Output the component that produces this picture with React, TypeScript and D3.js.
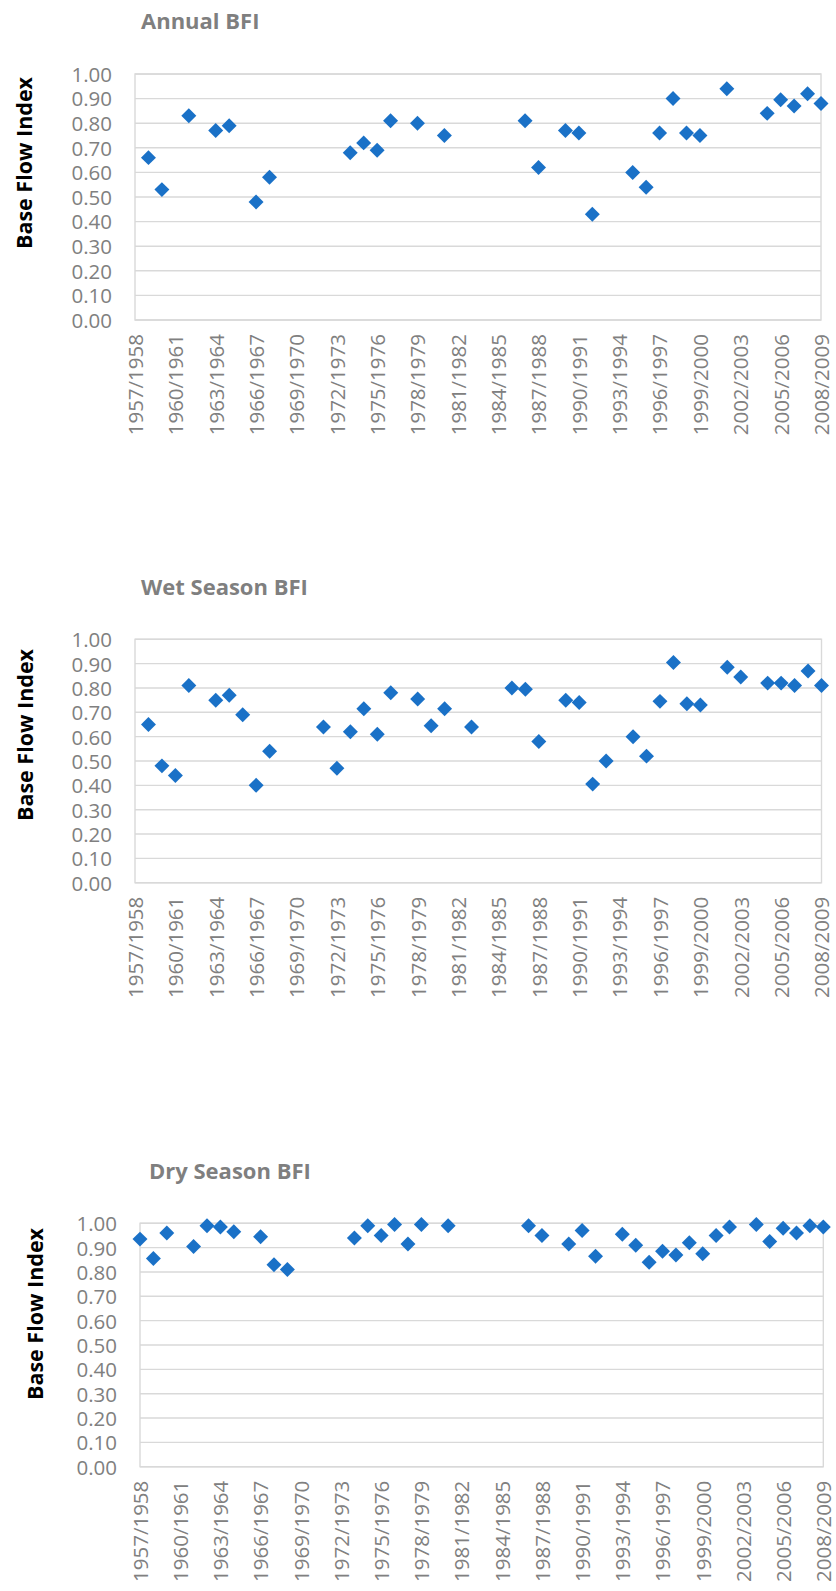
import React, { useEffect, useRef } from 'react';
import * as d3 from 'd3';

// hydrological years shown on the x axis
const seasons = d3.range(1957, 2009).map(y => `${y}/${y + 1}`);
const tickSeasons = seasons.filter((_, i) => i % 3 === 0);
const yTicks = [0, 0.1, 0.2, 0.3, 0.4, 0.5, 0.6, 0.7, 0.8, 0.9, 1.0];

const annualBFI: [string, number][] = [
  ['1958/1959', 0.66], ['1959/1960', 0.53], ['1961/1962', 0.83], ['1963/1964', 0.77],
  ['1964/1965', 0.79], ['1966/1967', 0.48], ['1967/1968', 0.58], ['1973/1974', 0.68],
  ['1974/1975', 0.72], ['1975/1976', 0.69], ['1976/1977', 0.81], ['1978/1979', 0.80],
  ['1980/1981', 0.75], ['1986/1987', 0.81], ['1987/1988', 0.62], ['1989/1990', 0.77],
  ['1990/1991', 0.76], ['1991/1992', 0.43], ['1994/1995', 0.60], ['1995/1996', 0.54],
  ['1996/1997', 0.76], ['1997/1998', 0.90], ['1998/1999', 0.76], ['1999/2000', 0.75],
  ['2001/2002', 0.94], ['2004/2005', 0.84], ['2005/2006', 0.895], ['2006/2007', 0.87],
  ['2007/2008', 0.92], ['2008/2009', 0.88],
];

const wetBFI: [string, number][] = [
  ['1958/1959', 0.65], ['1959/1960', 0.48], ['1960/1961', 0.44], ['1961/1962', 0.81],
  ['1963/1964', 0.75], ['1964/1965', 0.77], ['1965/1966', 0.69], ['1966/1967', 0.40],
  ['1967/1968', 0.54], ['1971/1972', 0.64], ['1972/1973', 0.47], ['1973/1974', 0.62],
  ['1974/1975', 0.715], ['1975/1976', 0.61], ['1976/1977', 0.78], ['1978/1979', 0.755],
  ['1979/1980', 0.645], ['1980/1981', 0.715], ['1982/1983', 0.64], ['1985/1986', 0.80],
  ['1986/1987', 0.795], ['1987/1988', 0.58], ['1989/1990', 0.75], ['1990/1991', 0.74],
  ['1991/1992', 0.405], ['1992/1993', 0.50], ['1994/1995', 0.60], ['1995/1996', 0.52],
  ['1996/1997', 0.745], ['1997/1998', 0.905], ['1998/1999', 0.735], ['1999/2000', 0.73],
  ['2001/2002', 0.885], ['2002/2003', 0.845], ['2004/2005', 0.82], ['2005/2006', 0.82],
  ['2006/2007', 0.81], ['2007/2008', 0.87], ['2008/2009', 0.81],
];

const dryBFI: [string, number][] = [
  ['1957/1958', 0.935], ['1958/1959', 0.855], ['1959/1960', 0.96], ['1961/1962', 0.905],
  ['1962/1963', 0.99], ['1963/1964', 0.985], ['1964/1965', 0.965], ['1966/1967', 0.945],
  ['1967/1968', 0.83], ['1968/1969', 0.81], ['1973/1974', 0.94], ['1974/1975', 0.99],
  ['1975/1976', 0.95], ['1976/1977', 0.995], ['1977/1978', 0.915], ['1978/1979', 0.995],
  ['1980/1981', 0.99], ['1986/1987', 0.99], ['1987/1988', 0.95], ['1989/1990', 0.915],
  ['1990/1991', 0.97], ['1991/1992', 0.865], ['1993/1994', 0.955], ['1994/1995', 0.91],
  ['1995/1996', 0.84], ['1996/1997', 0.885], ['1997/1998', 0.87], ['1998/1999', 0.92],
  ['1999/2000', 0.875], ['2000/2001', 0.95], ['2001/2002', 0.985], ['2003/2004', 0.995],
  ['2004/2005', 0.925], ['2005/2006', 0.98], ['2006/2007', 0.96], ['2007/2008', 0.99],
  ['2008/2009', 0.985],
];

const charts = [
  { title: 'Annual BFI', data: annualBFI, titleX: 141, titleY: 29, left: 135, right: 821, top: 74, bottom: 320, tickX: 112, yTitleX: 32, yTitleY: 163 },
  { title: 'Wet Season BFI', data: wetBFI, titleX: 141, titleY: 595, left: 135, right: 821.5, top: 639.3, bottom: 882.7, tickX: 112, yTitleX: 33, yTitleY: 735 },
  { title: 'Dry Season BFI', data: dryBFI, titleX: 149, titleY: 1179, left: 140, right: 823.3, top: 1223.3, bottom: 1466.7, tickX: 117, yTitleX: 43, yTitleY: 1314 },
];

const FONT = '"Open Sans", sans-serif';
const GRID = '#d9d9d9';
const BLUE = '#1a71c7';

function App() {
  const ref = useRef<SVGSVGElement>(null);

  useEffect(() => {
    const svg = d3.select(ref.current);
    svg.selectAll('*').remove();

    charts.forEach(c => {
      const x = d3.scalePoint<string>().domain(seasons).range([c.left, c.right]);
      const y = d3.scaleLinear().domain([0, 1]).range([c.bottom, c.top]);
      const g = svg.append('g');

      // horizontal gridlines
      g.selectAll('line.grid')
        .data(yTicks)
        .enter()
        .append('line')
        .attr('x1', c.left)
        .attr('x2', c.right)
        .attr('y1', d => y(d))
        .attr('y2', d => y(d))
        .attr('stroke', GRID)
        .attr('stroke-width', 1.4);

      g.append('rect')
        .attr('x', c.left)
        .attr('y', c.top)
        .attr('width', c.right - c.left)
        .attr('height', c.bottom - c.top)
        .attr('fill', 'none')
        .attr('stroke', GRID)
        .attr('stroke-width', 1.4);

      // y axis labels
      const ya = g.append('g')
        .attr('transform', `translate(${c.tickX},0)`)
        .call(d3.axisLeft(y).tickValues(yTicks).tickFormat(d3.format('.2f')).tickSize(0).tickPadding(0));
      ya.select('.domain').remove();
      ya.selectAll('text')
        .attr('dy', '0.36em')
        .style('font-family', FONT)
        .style('font-size', '20.5px')
        .attr('fill', '#808080');

      // x axis labels, rotated
      const xa = g.append('g')
        .attr('transform', `translate(0,${c.bottom})`)
        .call(d3.axisBottom(x).tickValues(tickSeasons).tickSize(0));
      xa.select('.domain').remove();
      xa.selectAll('text')
        .attr('transform', 'rotate(-90)')
        .attr('x', -14)
        .attr('y', 0)
        .attr('dy', '0.36em')
        .attr('text-anchor', 'end')
        .style('font-family', FONT)
        .style('font-size', '20.5px')
        .attr('fill', '#808080');

      // diamond markers
      g.selectAll('path.pt')
        .data(c.data)
        .enter()
        .append('path')
        .attr('d', d3.symbol(d3.symbolSquare, 112)())
        .attr('transform', d => `translate(${x(d[0])},${y(d[1])}) rotate(45)`)
        .attr('fill', BLUE);

      g.append('text')
        .attr('x', c.titleX)
        .attr('y', c.titleY)
        .text(c.title)
        .style('font-family', FONT)
        .style('font-size', '22px')
        .style('font-weight', 'bold')
        .attr('fill', '#7f7f7f');

      g.append('text')
        .attr('transform', `translate(${c.yTitleX},${c.yTitleY}) rotate(-90)`)
        .attr('text-anchor', 'middle')
        .text('Base Flow Index')
        .style('font-family', FONT)
        .style('font-size', '21.5px')
        .style('font-weight', 'bold')
        .attr('fill', '#000');
    });
  }, []);

  return (
    <svg ref={ref} width={836} height={1591}
      style={{ position: 'absolute', left: 0, top: 0, background: '#fff' }} />
  );
}

export default App;
